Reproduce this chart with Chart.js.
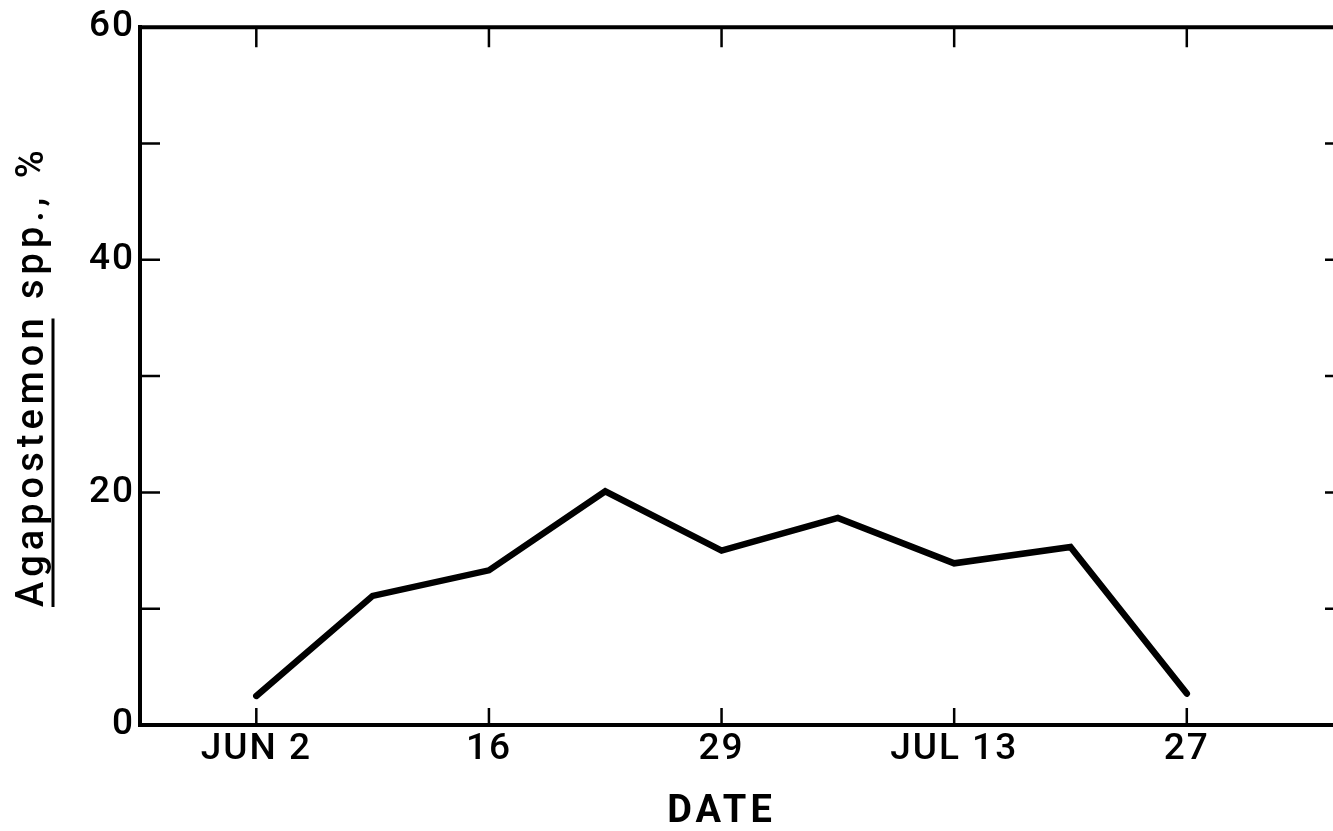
<!DOCTYPE html>
<html>
<head>
<meta charset="utf-8">
<script src="https://cdn.jsdelivr.net/npm/chart.js@4"></script>
<style>
  html, body { margin: 0; padding: 0; background: #fff; overflow: hidden; }
  #wrap { width: 1340px; height: 831px; }
</style>
</head>
<body>
<div id="wrap"><canvas id="bees" width="1340" height="831"></canvas></div>
<script>
// sampling occasions, evenly spaced on the date axis (0 = Jun 2)
const samplePos = [0, 1, 2, 3, 4, 5, 6, 7, 8];
const agapostemon = [2.5, 11.1, 13.3, 20.1, 15.0, 17.8, 13.9, 15.3, 2.7];
const dateTicks = [0, 2, 4, 6, 8];
const dateLabels = ['JUN 2', '16', '29', 'JUL 13', '27'];
const yTicks = [0, 10, 20, 30, 40, 50, 60];
const yLabelled = [0, 20, 40, 60];
const yTitle = 'Agapostemon';
const yTitleRest = ' spp., %';
const xTitle = 'DATE';

const FONT = "Roboto, 'Liberation Sans', Arial, sans-serif";

// box frame, inward tick marks and the axis titles
const frame = {
  id: 'frame',
  beforeDraw(chart) {
    chart.ctx.letterSpacing = '2px';
  },
  afterDraw(chart) {
    const { ctx, chartArea: a, scales: { x, y } } = chart;
    ctx.save();
    ctx.letterSpacing = '0px';
    ctx.strokeStyle = '#000';
    ctx.lineWidth = 4;
    ctx.beginPath();
    ctx.moveTo(a.left - 2, a.top);
    ctx.lineTo(a.right, a.top);
    ctx.lineTo(a.right, a.bottom);
    ctx.stroke();

    ctx.lineWidth = 2.5;
    ctx.beginPath();
    dateTicks.forEach(v => {
      const px = x.getPixelForValue(v);
      ctx.moveTo(px, a.bottom);
      ctx.lineTo(px, a.bottom - 17);
      ctx.moveTo(px, a.top);
      ctx.lineTo(px, a.top + 20);
    });
    yTicks.slice(1, -1).forEach(v => {
      const py = y.getPixelForValue(v);
      ctx.moveTo(a.left, py);
      ctx.lineTo(a.left + 20, py);
      ctx.moveTo(a.right, py);
      ctx.lineTo(a.right - 13, py);
    });
    ctx.stroke();

    // x title
    ctx.fillStyle = '#000';
    ctx.font = 'bold 38px ' + FONT;
    ctx.letterSpacing = '4px';
    ctx.textAlign = 'center';
    ctx.textBaseline = 'middle';
    ctx.fillText(xTitle, x.getPixelForValue(4), 812);

    // y title, rotated, genus name underlined
    ctx.font = '500 38px ' + FONT;
    ctx.letterSpacing = '5px';
    const full = yTitle + yTitleRest;
    const w = ctx.measureText(full).width;
    const cy = (a.top + a.bottom) / 2;
    ctx.translate(43, cy + w / 2);
    ctx.rotate(-Math.PI / 2);
    ctx.textAlign = 'left';
    ctx.textBaseline = 'alphabetic';
    ctx.fillText(full, 0, 0);
    const uw = ctx.measureText(yTitle).width - 5;
    ctx.lineWidth = 3;
    ctx.beginPath();
    ctx.moveTo(0, 10);
    ctx.lineTo(uw, 10);
    ctx.stroke();
    ctx.restore();
    chart.ctx.letterSpacing = '0px';
  }
};

new Chart(document.getElementById('bees'), {
  type: 'line',
  data: {
    datasets: [
      {
        data: samplePos.map((p, i) => ({ x: p, y: agapostemon[i] })),
        borderColor: '#000',
        borderWidth: 6.5,
        pointRadius: 0,
        borderCapStyle: 'round',
        borderJoinStyle: 'miter',
        tension: 0,
        fill: false
      }
    ]
  },
  options: {
    responsive: false,
    animation: false,
    layout: { padding: { top: 8, right: 2, left: 0, bottom: 0 } },
    plugins: { legend: { display: false }, tooltip: { enabled: false } },
    scales: {
      x: {
        type: 'linear',
        min: -1,
        max: 9.3,
        afterBuildTicks: s => { s.ticks = dateTicks.map(v => ({ value: v })); },
        afterFit: s => { s.height = 106; },
        grid: { display: false, drawTicks: false },
        border: { display: true, color: '#000', width: 4 },
        ticks: {
          autoSkip: false,
          maxRotation: 0,
          padding: 3,
          color: '#000',
          font: { family: FONT, size: 37, weight: '500' },
          callback: v => dateLabels[dateTicks.indexOf(v)] ?? ''
        }
      },
      y: {
        min: 0,
        max: 60,
        afterBuildTicks: s => { s.ticks = yTicks.map(v => ({ value: v })); },
        afterFit: s => { s.width = 140; },
        grid: { display: false, drawTicks: false },
        border: { display: true, color: '#000', width: 4 },
        ticks: {
          padding: 5,
          color: '#000',
          font: { family: FONT, size: 37, weight: '500' },
          callback: v => yLabelled.includes(v) ? String(v) : ''
        }
      }
    }
  },
  plugins: [frame]
});
</script>
</body>
</html>
